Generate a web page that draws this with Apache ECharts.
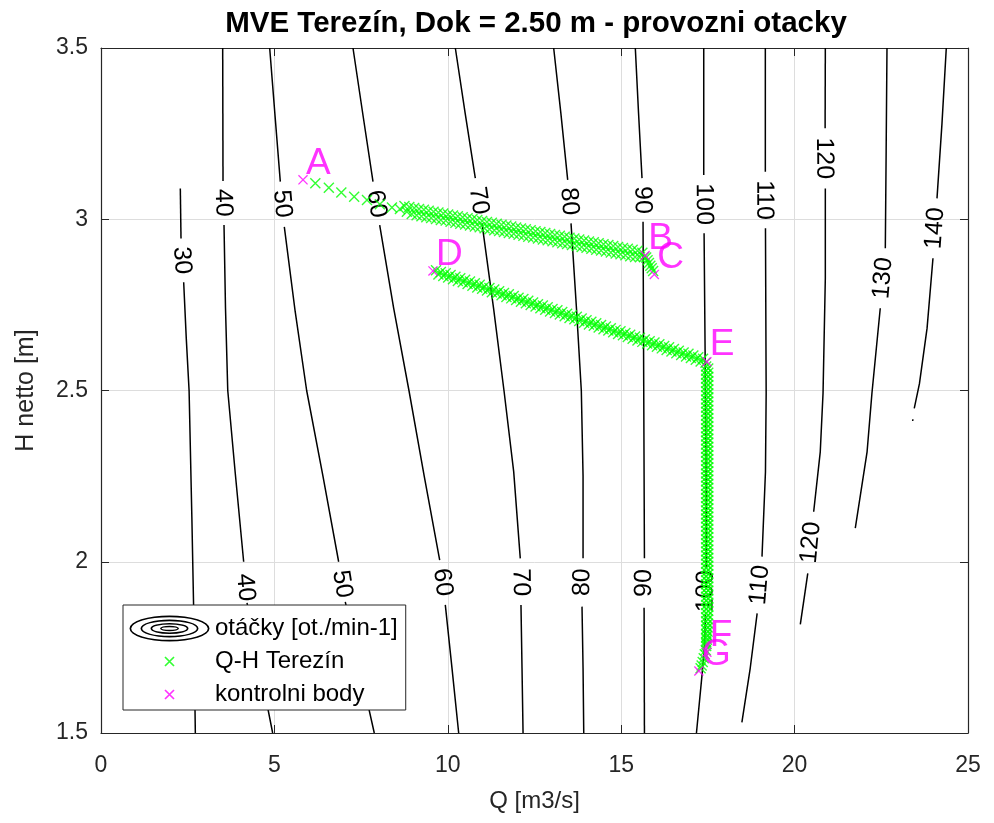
<!DOCTYPE html>
<html>
<head>
<meta charset="utf-8">
<script src="https://cdn.jsdelivr.net/npm/echarts@6/dist/echarts.min.js"></script>
<style>
  html, body { margin: 0; padding: 0; background: #ffffff; }
  #chart { width: 994px; height: 823px; }
</style>
</head>
<body>
<div id="chart"></div>
<script>
// Axis ranges and ticks
const qAxis = { min: 0, max: 25, step: 5 };
const hAxis = { min: 1.5, max: 3.5, step: 0.5 };

// Speed contour lines (otáčky), each level is a list of drawn segments [Q, H]
const rpm30 = [
  [[2.287, 3.090], [2.307, 2.944]],
  [[2.384, 2.816], [2.46, 2.65], [2.54, 2.50], [2.62, 2.13], [2.67, 1.87], [2.72, 1.50]]
];
const rpm40 = [
  [[3.509, 3.50], [3.518, 3.112]],
  [[3.547, 2.983], [3.59, 2.74], [3.655, 2.50], [3.87, 2.26], [4.114, 2.00]],
  [[4.21, 1.88], [4.58, 1.69], [4.95, 1.50]]
];
const rpm50 = [
  [[4.864, 3.50], [5.02, 3.30], [5.17, 3.110]],
  [[5.286, 2.978], [5.60, 2.73], [5.93, 2.50], [6.40, 2.25], [6.853, 2.00]],
  [[7.044, 1.883], [7.46, 1.69], [7.88, 1.50]]
];
const rpm60 = [
  [[7.266, 3.50], [7.56, 3.30], [7.843, 3.110]],
  [[8.036, 2.983], [8.44, 2.74], [8.88, 2.50], [9.32, 2.25], [9.766, 2.005]],
  [[9.928, 1.874], [10.12, 1.69], [10.314, 1.50]]
];
const rpm70 = [
  [[10.217, 3.50], [10.50, 3.31], [10.793, 3.12]],
  [[10.986, 2.988], [11.32, 2.74], [11.62, 2.50], [11.90, 2.263], [12.09, 2.01]],
  [[12.11, 1.874], [12.14, 1.69], [12.17, 1.50]]
];
const rpm80 = [
  [[13.053, 3.50], [13.26, 3.31], [13.457, 3.115]],
  [[13.553, 2.988], [13.71, 2.74], [13.85, 2.50], [13.90, 2.25], [13.90, 2.01]],
  [[13.87, 1.869], [13.90, 1.69], [13.92, 1.50]]
];
const rpm90 = [
  [[15.407, 3.50], [15.50, 3.31], [15.60, 3.12]],
  [[15.63, 2.993], [15.65, 2.50], [15.67, 2.01]],
  [[15.66, 1.866], [15.67, 1.50]]
];
const rpm100 = [
  [[17.38, 3.50], [17.38, 3.129]],
  [[17.39, 2.959], [17.43, 2.492], [17.45, 2.20], [17.45, 1.982]],
  [[17.43, 1.845], [17.40, 1.75], [17.33, 1.669], [17.17, 1.50]]
];
const rpm110 = [
  [[19.156, 3.50], [19.156, 3.139]],
  [[19.16, 2.974], [19.18, 2.492], [19.16, 2.263], [19.06, 2.015]],
  [[18.92, 1.849], [18.72, 1.689], [18.48, 1.531]]
];
const rpm120 = [
  [[20.886, 3.50], [20.88, 3.266]],
  [[20.886, 3.09], [20.886, 2.828], [20.82, 2.492], [20.74, 2.321], [20.55, 2.146]],
  [[20.38, 1.966], [20.165, 1.817]]
];
const rpm130 = [
  [[22.664, 3.50], [22.64, 3.20], [22.616, 2.915]],
  [[22.47, 2.74], [22.23, 2.492], [22.09, 2.321], [21.75, 2.098]]
];
const rpm140 = [
  [[24.374, 3.50], [24.25, 3.28], [24.106, 3.061]],
  [[23.99, 2.886], [23.82, 2.682], [23.60, 2.52], [23.45, 2.448]],
  [[23.41, 2.416], [23.405, 2.411]]
];
const contourLevels = [30, 40, 50, 60, 70, 80, 90, 100, 110, 120, 130, 140];
const contourSegments = [rpm30, rpm40, rpm50, rpm60, rpm70, rpm80, rpm90, rpm100, rpm110, rpm120, rpm130, rpm140];

// In-line contour labels: [level, Q, H]
const contourLabels = [
  [30, 2.33, 2.880],
  [40, 3.52, 3.048], [40, 4.16, 1.925],
  [50, 5.22, 3.045], [50, 6.95, 1.935],
  [60, 7.94, 3.045], [60, 9.85, 1.940],
  [70, 10.89, 3.054], [70, 12.10, 1.940],
  [80, 13.50, 3.052], [80, 13.88, 1.940],
  [90, 15.61, 3.056], [90, 15.66, 1.938],
  [100, 17.38, 3.044], [100, 17.44, 1.914],
  [110, 19.12, 3.056], [110, 19.00, 1.932],
  [120, 20.85, 3.178], [120, 20.47, 2.056],
  [130, 22.55, 2.828],
  [140, 24.05, 2.974]
];

// Operating points Q-H Terezín
const qhUpperStart = [
  [6.18, 3.105], [6.57, 3.092], [6.93, 3.078], [7.30, 3.066], [7.67, 3.056],
  [8.04, 3.044], [8.39, 3.034], [8.62, 3.030]
];
const qhUpperTop = [
  [8.75, 3.039], [8.89, 3.036], [9.03, 3.033], [9.17, 3.030], [9.31, 3.028], [9.45, 3.025],
  [9.59, 3.022], [9.73, 3.020], [9.87, 3.017], [10.01, 3.014], [10.15, 3.011], [10.29, 3.009],
  [10.43, 3.006], [10.57, 3.003], [10.71, 3.001], [10.85, 2.998], [10.99, 2.995], [11.13, 2.992],
  [11.27, 2.990], [11.41, 2.987], [11.55, 2.984], [11.69, 2.982], [11.83, 2.979], [11.97, 2.976],
  [12.11, 2.973], [12.25, 2.971], [12.39, 2.968], [12.53, 2.965], [12.67, 2.963], [12.81, 2.960],
  [12.95, 2.957], [13.09, 2.954], [13.23, 2.952], [13.37, 2.949], [13.51, 2.946], [13.65, 2.944],
  [13.79, 2.941], [13.93, 2.938], [14.07, 2.935], [14.21, 2.933], [14.35, 2.930], [14.49, 2.927],
  [14.63, 2.925], [14.77, 2.922], [14.91, 2.919], [15.05, 2.916], [15.19, 2.914], [15.33, 2.911],
  [15.47, 2.908], [15.61, 2.902]
];
const qhUpperBottom = [
  [8.82, 3.022], [8.96, 3.015], [9.10, 3.012], [9.24, 3.009], [9.38, 3.006], [9.52, 3.004],
  [9.66, 3.001], [9.80, 2.998], [9.94, 2.996], [10.08, 2.993], [10.22, 2.990], [10.36, 2.987],
  [10.50, 2.985], [10.64, 2.982], [10.78, 2.979], [10.92, 2.977], [11.06, 2.974], [11.20, 2.971],
  [11.34, 2.968], [11.48, 2.966], [11.62, 2.963], [11.76, 2.960], [11.90, 2.958], [12.04, 2.955],
  [12.18, 2.952], [12.32, 2.949], [12.46, 2.947], [12.60, 2.944], [12.74, 2.941], [12.88, 2.939],
  [13.02, 2.936], [13.16, 2.933], [13.30, 2.930], [13.44, 2.928], [13.58, 2.925], [13.72, 2.922],
  [13.86, 2.919], [14.00, 2.917], [14.14, 2.914], [14.28, 2.911], [14.42, 2.909], [14.56, 2.906],
  [14.70, 2.903], [14.84, 2.900], [14.98, 2.898], [15.12, 2.895], [15.26, 2.892], [15.40, 2.890],
  [15.54, 2.889], [15.66, 2.890]
];
const qhStepBC = [[15.72, 2.888], [15.76, 2.880], [15.80, 2.872], [15.84, 2.864], [15.88, 2.857], [15.92, 2.849]];
const qhLowerTop = [
  [9.66, 2.851], [9.80, 2.846], [9.94, 2.842], [10.08, 2.837], [10.22, 2.832], [10.36, 2.828],
  [10.50, 2.823], [10.64, 2.818], [10.78, 2.813], [10.92, 2.809], [11.06, 2.804], [11.20, 2.799],
  [11.34, 2.795], [11.48, 2.790], [11.62, 2.785], [11.76, 2.781], [11.90, 2.776], [12.04, 2.771],
  [12.18, 2.767], [12.32, 2.762], [12.46, 2.757], [12.60, 2.752], [12.74, 2.748], [12.88, 2.743],
  [13.02, 2.738], [13.16, 2.734], [13.30, 2.729], [13.44, 2.724], [13.58, 2.720], [13.72, 2.715],
  [13.86, 2.710], [14.00, 2.705], [14.14, 2.701], [14.28, 2.696], [14.42, 2.691], [14.56, 2.687],
  [14.70, 2.682], [14.84, 2.677], [14.98, 2.673], [15.12, 2.668], [15.26, 2.663], [15.40, 2.658],
  [15.54, 2.654], [15.68, 2.649], [15.82, 2.644], [15.96, 2.640], [16.10, 2.635], [16.24, 2.630],
  [16.38, 2.626], [16.52, 2.621], [16.66, 2.616], [16.80, 2.611], [16.94, 2.607], [17.08, 2.602],
  [17.22, 2.597], [17.36, 2.593]
];
const qhLowerBottom = [
  [9.73, 2.839], [9.87, 2.834], [10.01, 2.830], [10.15, 2.825], [10.29, 2.820], [10.43, 2.816],
  [10.57, 2.811], [10.71, 2.806], [10.85, 2.801], [10.99, 2.797], [11.13, 2.792], [11.27, 2.787],
  [11.41, 2.783], [11.55, 2.778], [11.69, 2.773], [11.83, 2.769], [11.97, 2.764], [12.11, 2.759],
  [12.25, 2.755], [12.39, 2.750], [12.53, 2.745], [12.67, 2.740], [12.81, 2.736], [12.95, 2.731],
  [13.09, 2.726], [13.23, 2.722], [13.37, 2.717], [13.51, 2.712], [13.65, 2.708], [13.79, 2.703],
  [13.93, 2.698], [14.07, 2.693], [14.21, 2.689], [14.35, 2.684], [14.49, 2.679], [14.63, 2.675],
  [14.77, 2.670], [14.91, 2.665], [15.05, 2.661], [15.19, 2.656], [15.33, 2.651], [15.47, 2.646],
  [15.61, 2.642], [15.75, 2.637], [15.89, 2.632], [16.03, 2.628], [16.17, 2.623], [16.31, 2.618],
  [16.45, 2.614], [16.59, 2.609], [16.73, 2.604], [16.87, 2.599], [17.01, 2.595], [17.15, 2.590],
  [17.29, 2.585], [17.43, 2.581]
];
const qhVerticalLeft = [
  [17.45, 2.570], [17.45, 2.558], [17.45, 2.546], [17.45, 2.534], [17.45, 2.522], [17.45, 2.510],
  [17.45, 2.498], [17.45, 2.486], [17.45, 2.474], [17.45, 2.462], [17.45, 2.450], [17.45, 2.438],
  [17.45, 2.426], [17.45, 2.414], [17.45, 2.402], [17.45, 2.390], [17.45, 2.378], [17.45, 2.366],
  [17.45, 2.354], [17.45, 2.342], [17.45, 2.330], [17.45, 2.318], [17.45, 2.306], [17.45, 2.294],
  [17.45, 2.282], [17.45, 2.270], [17.45, 2.258], [17.45, 2.246], [17.45, 2.234], [17.45, 2.222],
  [17.45, 2.210], [17.45, 2.198], [17.45, 2.186], [17.45, 2.174], [17.45, 2.162], [17.45, 2.150],
  [17.45, 2.138], [17.45, 2.126], [17.45, 2.114], [17.45, 2.102], [17.45, 2.090], [17.45, 2.078],
  [17.45, 2.066], [17.45, 2.054], [17.45, 2.042], [17.45, 2.030], [17.45, 2.018], [17.45, 2.006],
  [17.45, 1.994], [17.45, 1.982], [17.45, 1.970], [17.45, 1.958], [17.45, 1.946], [17.45, 1.934],
  [17.45, 1.922], [17.45, 1.910], [17.45, 1.898], [17.45, 1.886], [17.45, 1.874], [17.45, 1.862],
  [17.45, 1.850], [17.45, 1.838], [17.45, 1.826], [17.45, 1.814], [17.45, 1.802], [17.45, 1.790],
  [17.45, 1.778], [17.45, 1.766], [17.45, 1.754]
];
const qhVerticalRight = [
  [17.51, 2.564], [17.51, 2.552], [17.51, 2.540], [17.51, 2.528], [17.51, 2.516], [17.51, 2.504],
  [17.51, 2.492], [17.51, 2.480], [17.51, 2.468], [17.51, 2.456], [17.51, 2.444], [17.51, 2.432],
  [17.51, 2.420], [17.51, 2.408], [17.51, 2.396], [17.51, 2.384], [17.51, 2.372], [17.51, 2.360],
  [17.51, 2.348], [17.51, 2.336], [17.51, 2.324], [17.51, 2.312], [17.51, 2.300], [17.51, 2.288],
  [17.51, 2.276], [17.51, 2.264], [17.51, 2.252], [17.51, 2.240], [17.51, 2.228], [17.51, 2.216],
  [17.51, 2.204], [17.51, 2.192], [17.51, 2.180], [17.51, 2.168], [17.51, 2.156], [17.51, 2.144],
  [17.51, 2.132], [17.51, 2.120], [17.51, 2.108], [17.51, 2.096], [17.51, 2.084], [17.51, 2.072],
  [17.51, 2.060], [17.51, 2.048], [17.51, 2.036], [17.51, 2.024], [17.51, 2.012], [17.51, 2.000],
  [17.51, 1.988], [17.51, 1.976], [17.51, 1.964], [17.51, 1.952], [17.51, 1.940], [17.51, 1.928],
  [17.51, 1.916], [17.51, 1.904], [17.51, 1.892], [17.51, 1.880], [17.51, 1.868], [17.51, 1.856],
  [17.51, 1.844], [17.50, 1.832], [17.50, 1.820], [17.49, 1.808], [17.49, 1.796], [17.48, 1.784],
  [17.47, 1.772], [17.46, 1.760]
];
const qhTail = [[17.44, 1.742], [17.41, 1.730], [17.38, 1.718], [17.35, 1.707], [17.32, 1.697], [17.29, 1.689]];

// Control points (kontrolni body)
const controlNames = ['A', 'B', 'C', 'D', 'E', 'F', 'G'];
const controlQ = [5.825, 15.69, 15.955, 9.573, 17.47, 17.47, 17.24];
const controlH = [3.115, 2.894, 2.839, 2.849, 2.584, 1.736, 1.681];

const FONT = "'Liberation Sans', Arial, Helvetica, sans-serif";
const INK = '#262626';
const xMark = 'path://M0.9,0 L10,9.1 L9.1,10 L0,0.9 Z M9.1,0 L10,0.9 L0.9,10 L0,9.1 Z';
// legend icons drawn in an 81x27 box (corner specks fix the box size)
const boxSpecks = 'M0,0 L0.01,0 L0,0.01 Z M81,27 L80.99,27 L81,26.99 Z ';
const legendX = 'path://' + boxSpecks +
  'M36.6,8.4 L45.6,17.4 L44.4,18.6 L35.4,9.6 Z M45.6,9.6 L36.6,18.6 L35.4,17.4 L44.4,8.4 Z';
function ring(cx, cy, rx, ry, w) {
  const ox = rx, oy = ry, ix = rx - w, iy = ry - w;
  return 'M' + (cx - ox) + ',' + cy + ' A' + ox + ',' + oy + ' 0 1,1 ' + (cx + ox) + ',' + cy +
         ' A' + ox + ',' + oy + ' 0 1,1 ' + (cx - ox) + ',' + cy + ' Z ' +
         'M' + (cx - ix) + ',' + cy + ' A' + ix + ',' + iy + ' 0 1,0 ' + (cx + ix) + ',' + cy +
         ' A' + ix + ',' + iy + ' 0 1,0 ' + (cx - ix) + ',' + cy + ' Z ';
}
const legendContour = 'path://' + boxSpecks +
  ring(40.5, 13.5, 40, 13, 1.7) + ring(40.5, 13.5, 29, 9, 1.7) +
  ring(40.5, 13.5, 19, 5.6, 1.7) + ring(40.5, 13.5, 9.5, 2.8, 1.5);

const contourName = 'otáčky [ot./min-1]';
const qhName = 'Q-H Terezín';
const ctrlName = 'kontrolni body';

const chart = echarts.init(document.getElementById('chart'), null, { renderer: 'canvas' });

const series = [];
contourSegments.forEach(function (segs) {
  segs.forEach(function (seg) {
    series.push({
      name: contourName, type: 'line', data: seg, showSymbol: false, symbol: 'none',
      lineStyle: { color: '#000000', width: 1.5 }, itemStyle: { color: '#000000' },
      silent: true, z: 2
    });
  });
});
series.push({
  name: 'contourLabels', type: 'scatter', symbolSize: 1,
  itemStyle: { color: 'rgba(0,0,0,0)' },
  data: contourLabels.map(function (c) { return { value: [c[1], c[2], c[0]] }; }),
  label: {
    show: true, position: 'inside', formatter: function (p) { return String(p.value[2]); },
    fontSize: 25, fontFamily: FONT, color: '#000000', opacity: 1
  },
  z: 3, silent: true
});
series.push({
  name: qhName, type: 'scatter', symbol: xMark, symbolSize: 11,
  itemStyle: { color: '#00ff00' },
  data: [].concat(qhUpperStart, qhUpperTop, qhUpperBottom, qhStepBC, qhLowerTop, qhLowerBottom,
                  qhVerticalLeft, qhVerticalRight, qhTail),
  z: 5, silent: true
});
series.push({
  name: ctrlName, type: 'scatter', symbol: xMark, symbolSize: 10,
  itemStyle: { color: '#ff00ff' },
  data: controlNames.map(function (n, i) { return { value: [controlQ[i], controlH[i]], name: n }; }),
  label: {
    show: true, position: [8, -30], align: 'left', verticalAlign: 'top',
    formatter: function (p) { return p.name; },
    fontSize: 37, fontFamily: FONT, color: '#ff00ff'
  },
  z: 6, silent: true
});

function axisBase(pos, showLabel, range) {
  return {
    type: 'value', position: pos, min: range.min, max: range.max, interval: range.step,
    axisLine: { show: true, onZero: false, lineStyle: { color: INK, width: 1.2 } },
    axisTick: { show: true, inside: true, length: 8, lineStyle: { color: INK, width: 1 } },
    axisLabel: { show: showLabel, fontSize: 23, fontFamily: FONT, color: INK, margin: 13 },
    splitLine: { show: showLabel, lineStyle: { color: '#dddddd', width: 1 } }
  };
}
const xMain = axisBase('bottom', true, qAxis);
xMain.axisLabel.margin = 21;
xMain.name = 'Q [m3/s]'; xMain.nameLocation = 'middle'; xMain.nameGap = 56;
xMain.nameTextStyle = { fontSize: 24, fontFamily: FONT, color: INK };
const yMain = axisBase('left', true, hAxis);
yMain.name = 'H netto [m]'; yMain.nameLocation = 'middle'; yMain.nameGap = 62;
yMain.nameTextStyle = { fontSize: 25, fontFamily: FONT, color: INK };
yMain.axisLabel.formatter = function (v) { return String(v); };

const option = {
  animation: false,
  backgroundColor: '#ffffff',
  title: {
    text: 'MVE Terezín, Dok = 2.50 m - provozni otacky',
    left: 531, top: 4, textAlign: 'center',
    textStyle: { fontSize: 29.5, fontWeight: 'bold', fontFamily: FONT, color: '#000000' }
  },
  grid: { left: 101, right: 26, top: 48, bottom: 90, containLabel: false },
  xAxis: [xMain, axisBase('top', false, qAxis)],
  yAxis: [yMain, axisBase('right', false, hAxis)],
  legend: {
    orient: 'vertical', left: 123, top: 605,
    padding: [10, 8, 2, 6], itemGap: 6, itemWidth: 81, itemHeight: 27,
    backgroundColor: '#ffffff', borderColor: INK, borderWidth: 1, borderRadius: 0,
    selectedMode: false, symbolKeepAspect: false,
    textStyle: { fontSize: 24, fontFamily: FONT, color: '#000000' },
    data: [
      { name: contourName, icon: legendContour, itemStyle: { color: '#000000' } },
      { name: qhName, icon: legendX, itemStyle: { color: '#00ff00' } },
      { name: ctrlName, icon: legendX, itemStyle: { color: '#ff00ff' } }
    ],
    z: 10
  },
  series: series
};
chart.setOption(option);

// Orient every contour label along its line (text kept readable, within -90..90 deg)
function labelAngle(lab) {
  const segs = contourSegments[contourLevels.indexOf(lab[0])];
  const p = chart.convertToPixel({ gridIndex: 0 }, [lab[1], lab[2]]);
  let best = null, bestD = Infinity;
  for (let k = 0; k + 1 < segs.length; k++) {
    const a = chart.convertToPixel({ gridIndex: 0 }, segs[k][segs[k].length - 1]);
    const b = chart.convertToPixel({ gridIndex: 0 }, segs[k + 1][0]);
    const d = Math.hypot((a[0] + b[0]) / 2 - p[0], (a[1] + b[1]) / 2 - p[1]);
    if (d < bestD) { bestD = d; best = [a, b]; }
  }
  let r = Math.atan2(-(best[1][1] - best[0][1]), best[1][0] - best[0][0]) * 180 / Math.PI;
  if (r > 90) r -= 180;
  if (r <= -90) r += 180;
  return r;
}
const labelSeriesIndex = series.findIndex(function (s) { return s.name === 'contourLabels'; });
const labelData = contourLabels.map(function (c) {
  return { value: [c[1], c[2], c[0]], label: { rotate: labelAngle(c) } };
});
const upd = { series: [] };
for (let i = 0; i < series.length; i++) upd.series.push(i === labelSeriesIndex ? { data: labelData } : {});
chart.setOption(upd);
</script>
</body>
</html>
